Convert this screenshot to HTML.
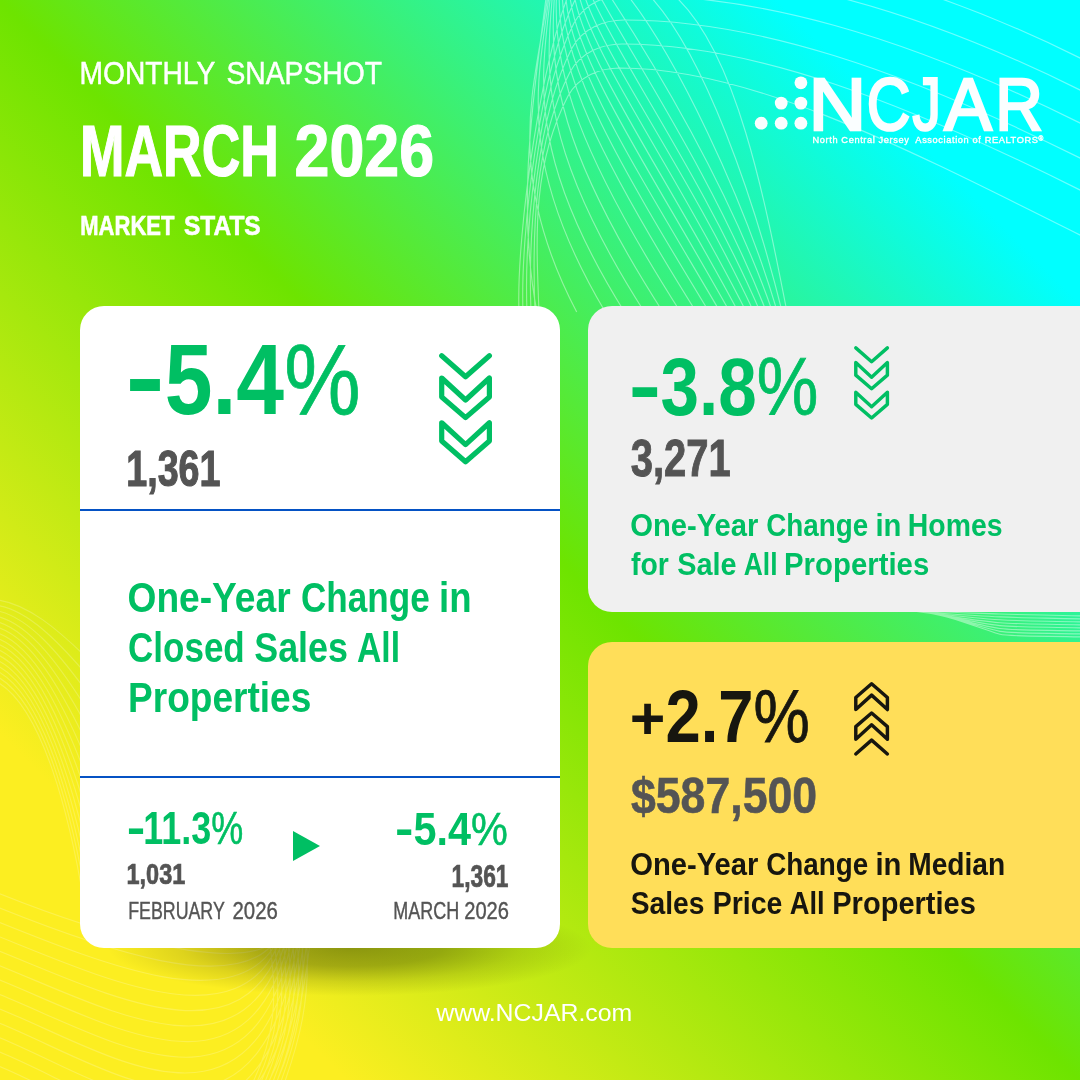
<!DOCTYPE html>
<html lang="en"><head><meta charset="utf-8"><title>NCJAR Monthly Snapshot - March 2026 Market Stats</title>
<style>
html,body{margin:0;padding:0;background:#fff}
#page{position:relative;width:1080px;height:1080px;overflow:hidden;font-family:"Liberation Sans",sans-serif;
background:linear-gradient(45deg,#fcee21 16%,#6de400 50%,#00ffff 86%)}
p,h1,h2{margin:0;padding:0;font-size:inherit;font-weight:inherit}
.card{position:absolute;border-radius:24px}
.white{background:#fff}
.grey{background:#f0f0f0}
.yellow{background:#ffde59}
.shadow{position:absolute;left:108px;top:900px;width:484px;height:96px;
background:radial-gradient(ellipse closest-side at 50% 50%,rgba(40,50,0,.46) 0%,rgba(40,50,0,.36) 38%,rgba(40,50,0,.14) 70%,rgba(40,50,0,0) 100%)}
.rule{position:absolute;left:0;right:0;height:2px;background:#0552c4}
.ic{position:absolute;overflow:visible}
.logosvg{position:absolute;overflow:visible}
#bgart{position:absolute;left:0;top:0}
.ln{position:absolute;margin:0;padding:0;line-height:1;white-space:nowrap;font-family:"Liberation Sans",sans-serif}
.w{display:inline-block;transform-origin:0 0}

.pc{font-weight:400}
.big .pc{-webkit-text-stroke:.8px currentColor}
.sm .pc{-webkit-text-stroke:.6px currentColor}
.rg{font-size:70%;vertical-align:30%}

</style></head>
<body>
<main id="page">
<svg id="bgart" width="1080" height="1080" viewBox="0 0 1080 1080" fill="none" stroke="#fff" stroke-width="1.15"><path opacity=".42" d="M546.0,-2 C536.0,80.0 515.0,200.0 537.0,312 M547.4,-2 C537.6,78.7 500.6,167.0 576.7,312 M548.7,-2 C539.5,77.4 513.5,157.4 605.3,312 M550.2,-2 C541.9,76.1 524.8,152.6 624.5,312 M552.2,-2 C545.3,74.7 541.1,150.4 644.4,312 M554.3,-2 C549.1,73.4 559.0,150.0 662.9,312 M556.4,-2 C553.4,72.1 578.0,150.9 680.4,312 M559.2,-2 C558.7,70.8 596.7,152.8 696.2,312 M562.4,-2 C564.8,69.5 613.9,155.4 709.1,312 M565.9,-2 C571.7,68.2 630.1,158.5 720.2,312 M570.1,-2 C579.4,66.8 645.5,162.0 729.8,312 M574.7,-2 C588.1,65.5 660.3,165.9 738.3,312 M579.7,-2 C597.6,64.2 675.0,169.9 746.3,312 M585.2,-2 C607.9,62.9 689.5,174.2 753.8,312 M592.4,-2 C620.4,61.6 702.9,178.5 760.2,312 M600.9,-2 C634.6,60.3 716.2,182.8 766.4,312 M611.2,-2 C650.9,58.9 729.6,187.2 772.5,312 M629.7,-2 C675.7,57.6 741.6,191.5 777.4,312 M651.7,-2 C704.5,56.3 753.3,195.8 782.2,312 M677.0,-2 C737.0,55.0 765.0,200.0 787.0,312 M519.0,312 C516.0,235 542,43 578,-27 C589,-47 610,-55 630,-55 C760,-55 900,-32 1084,60 M523.0,312 C520.0,235 540,68 576,-2 C587,-22 608,-30 628,-30 C758,-30 900,0 1084,92 M527.0,312 C524.0,235 538,93 574,23 C585,3 606,-5 626,-5 C756,-5 900,33 1084,125 M531.0,312 C528.0,235 536,118 572,48 C583,28 604,20 624,20 C754,20 900,68 1084,160 M535.0,312 C532.0,235 534,142 570,72 C581,52 602,44 622,44 C752,44 900,100 1084,192 M539.0,312 C536.0,235 532,166 568,96 C579,76 600,68 620,68 C750,68 900,145 1084,237 M905,611 C935,611.5 970,613.0 1000,614.0 S1050,615 1084,616 M908,611 C940,613.1 973,615.7 1000,616.9 S1050,618 1084,619 M911,611 C945,614.7 976,618.4 1000,619.8 S1050,621 1084,622 M914,611 C950,616.3 979,621.1 1000,622.7 S1050,624 1084,625 M917,611 C955,617.9 982,623.8 1000,625.6 S1050,627 1084,628 M920,611 C960,619.5 985,626.5 1000,628.5 S1050,630 1084,631 M923,611 C965,621.1 988,629.2 1000,631.4 S1050,633 1084,634 M926,611 C970,622.7 991,631.9 1000,634.3 S1050,636 1084,637"/><path opacity=".20" d="M-2,600.0 C28.0,604.0 58.0,630.0 84,655.0 M-2,605.5 C29.0,611.0 58.8,642.5 84,671.5 M-2,611.0 C30.0,618.0 59.6,655.0 84,688.0 M-2,616.5 C31.0,625.0 60.4,667.5 84,704.5 M-2,622.0 C32.0,632.0 61.2,680.0 84,721.0 M-2,627.5 C33.0,639.0 62.0,692.5 84,737.5 M-2,633.0 C34.0,646.0 62.8,705.0 84,754.0 M-2,638.5 C35.0,653.0 63.6,717.5 84,770.5 M-2,644.0 C36.0,660.0 64.4,730.0 84,787.0 M-2,649.5 C37.0,667.0 65.2,742.5 84,803.5 M-2,655.0 C38.0,674.0 66.0,755.0 84,820.0 M-2,660.5 C39.0,681.0 66.8,767.5 84,836.5 M-2,666.0 C40.0,688.0 67.6,780.0 84,853.0 M-2,671.5 C41.0,695.0 68.4,792.5 84,869.5 M-2,677.0 C42.0,702.0 69.2,805.0 84,886.0 M-2,682.5 C43.0,709.0 70.0,817.5 84,902.5 M-2,893.0 C110,938.0 225.0,968.0 268.0,946 M-2,907.4 C110,952.4 228.5,991.4 271.2,946 M-2,921.8 C110,966.8 232.0,1014.8 274.4,946 M-2,936.2 C110,981.2 235.5,1038.2 277.6,946 M-2,950.6 C110,995.6 239.0,1061.6 280.8,946 M-2,965.0 C110,1010.0 242.5,1085.0 284.0,946 M-2,979.4 C110,1024.4 246.0,1108.4 287.2,946 M-2,993.8 C110,1038.8 249.5,1131.8 290.4,946 M-2,1008.2 C110,1053.2 253.0,1155.2 293.6,946 M-2,1022.6 C110,1067.6 256.5,1178.6 296.8,946 M-2,1037.0 C110,1082.0 260.0,1202.0 300.0,946 M-2,1051.4 C110,1096.4 263.5,1225.4 303.2,946 M-2,1065.8 C110,1110.8 267.0,1248.8 306.4,946 M-2,1080.2 C110,1125.2 270.5,1272.2 309.6,946 M270.0,946 C278.0,1000 274.0,1040 252.0,1084 M274.6,946 C282.0,1000 277.2,1040 256.0,1084 M279.2,946 C286.0,1000 280.4,1040 260.0,1084 M283.8,946 C290.0,1000 283.6,1040 264.0,1084 M288.4,946 C294.0,1000 286.8,1040 268.0,1084 M293.0,946 C298.0,1000 290.0,1040 272.0,1084 M297.6,946 C302.0,1000 293.2,1040 276.0,1084 M302.2,946 C306.0,1000 296.4,1040 280.0,1084 M306.8,946 C310.0,1000 299.6,1040 284.0,1084"/></svg>
<header class="hdr">
<p class="ln" style="left:81.50px;top:57.80px;font-size:31.88px;font-weight:400;color:#ffffff;-webkit-text-stroke:0.5px #ffffff"><span class="w" style="transform:translate(-2.50px,0.00px) scaleX(0.8841)">MONTHLY</span> <span class="w" style="transform:translate(-17.50px,0.00px) scaleX(0.8866)">SNAPSHOT</span></p>
<h1 class="ln" style="left:83.00px;top:116.24px;font-size:71.81px;font-weight:700;color:#ffffff;-webkit-text-stroke:1.2px #ffffff"><span class="w" style="transform:translate(-3.00px,0.00px) scaleX(0.7440)">MARCH</span> <span class="w" style="transform:translate(-75.50px,0.00px) scaleX(0.8738)">2026</span></h1>
<p class="ln" style="left:81.25px;top:211.94px;font-size:28.12px;font-weight:700;color:#ffffff;-webkit-text-stroke:0.6px #ffffff"><span class="w" style="transform:translate(-0.75px,0.00px) scaleX(0.7832)">MARKET</span> <span class="w" style="transform:translate(-25.00px,0.00px) scaleX(0.8722)">STATS</span></p>
</header>
<div class="logo">
<svg class="logosvg" width="320" height="100" viewBox="740 60 320 100" style="left:740px;top:60px">
<g fill="#fafeff">
<circle cx="800.9" cy="82.8" r="6.4"/><circle cx="781.2" cy="103.1" r="6.4"/><circle cx="800.9" cy="103.1" r="6.4"/>
<circle cx="761.2" cy="123.2" r="6.4"/><circle cx="781.2" cy="123.2" r="6.4"/><circle cx="800.9" cy="123.2" r="6.4"/>
</g>
</svg>
<div class="ln" style="left:813.40px;top:67.85px;font-size:74.49px;font-weight:400;color:#fafeff;-webkit-text-stroke:2.6px #fafeff"><span class="w" style="transform:translate(-4.50px,0.00px) scaleX(1.0749)">N</span><span class="w" style="transform:translate(-0.25px,0.00px) scaleX(0.8120)">C</span><span class="w" style="transform:translate(-8.50px,0.00px) scaleX(0.7641)">J</span><span class="w" style="transform:translate(-13.75px,0.00px) scaleX(0.9581)">A</span><span class="w" style="transform:translate(-12.75px,0.00px) scaleX(0.8868)">R</span></div>
<p class="ln" style="left:813.10px;top:136.47px;font-size:9.06px;font-weight:400;color:#ffffff;-webkit-text-stroke:0.35px #ffffff"><span class="w" style="transform:translate(-0.50px,0.00px) scaleX(1.0216);letter-spacing:0.6px">North Central Jersey&nbsp; Association of REALTORS<span class="rg">®</span></span></p>
</div>
<div class="shadow"></div>
<section class="card white" style="left:80px;top:306px;width:480px;height:642px">
<p class="ln big" style="left:50.00px;top:23.39px;font-size:100.72px;font-weight:700;color:#00bf63"><span class="w" style="transform:translate(-4.50px,-3.00px) scaleX(1.1663)">-</span><span class="w" style="transform:translate(0.75px,0.00px) scaleX(0.8527)">5.4<span class="pc">%</span></span></p>
<svg class="ic" style="left:358.60px;top:46.60px" width="53.10" height="111.40" viewBox="0 0 53.1 111.4"><g fill="none" stroke="#00bf63" stroke-width="5.2" stroke-linecap="round" stroke-linejoin="round"><polyline points="2.7,2.8 26.55,23.7 50.4,2.8"/><polygon points="2.7,25 26.55,47 50.4,25 50.4,44 26.55,64.6 2.7,44"/><polygon points="2.7,69.8 26.55,91.6 50.4,69.8 50.4,88 26.55,108.7 2.7,88"/></g></svg>
<p class="ln" style="left:48.00px;top:138.49px;font-size:50.80px;font-weight:700;color:#545454;-webkit-text-stroke:1.2px #545454"><span class="w" style="transform:translate(-1.75px,0.00px) scaleX(0.7416)">1,361</span></p>
<div class="rule" style="top:203px"></div>
<h2>
<span class="ln" style="left:48.90px;top:269.73px;font-size:43.04px;font-weight:700;color:#00bf63"><span class="w" style="transform:translate(-1.50px,0.00px) scaleX(0.8631)">One-Year</span> <span class="w" style="transform:translate(-29.00px,0.00px) scaleX(0.8155)">Change</span> <span class="w" style="transform:translate(-61.00px,0.00px) scaleX(0.8503)">in</span></span>
<span class="ln" style="left:49.30px;top:319.73px;font-size:43.04px;font-weight:700;color:#00bf63"><span class="w" style="transform:translate(-1.00px,0.00px) scaleX(0.8137)">Closed</span> <span class="w" style="transform:translate(-30.75px,0.00px) scaleX(0.8334)">Sales</span> <span class="w" style="transform:translate(-52.00px,0.00px) scaleX(0.7823)">All</span></span>
<span class="ln" style="left:50.20px;top:369.73px;font-size:43.04px;font-weight:700;color:#00bf63"><span class="w" style="transform:translate(-2.00px,0.00px) scaleX(0.8614)">Properties</span></span>
</h2>
<div class="rule" style="top:470.3px"></div>
<p class="ln sm" style="left:48.75px;top:497.95px;font-size:47.10px;font-weight:700;color:#00bf63"><span class="w" style="transform:translate(-2.25px,-1.40px) scaleX(1.1850)">-</span><span class="w" style="transform:translate(-0.75px,0.00px) scaleX(0.7641)">11.3<span class="pc">%</span></span></p>
<p class="ln" style="left:47.50px;top:553.23px;font-size:29.78px;font-weight:700;color:#545454;-webkit-text-stroke:0.7px #545454"><span class="w" style="transform:translate(-1.50px,0.00px) scaleX(0.7897)">1,031</span></p>
<p class="ln" style="left:49.50px;top:594.01px;font-size:23.70px;font-weight:400;color:#545454;-webkit-text-stroke:0.4px #545454"><span class="w" style="transform:translate(-1.75px,0.00px) scaleX(0.7506)">FEBRUARY</span> <span class="w" style="transform:translate(-32.50px,0.00px) scaleX(0.8589)">2026</span></p>
<svg class="ic" style="left:213.25px;top:524.75px" width="26.5" height="30" viewBox="0 0 26.5 30"><polygon points="0,0 27,15 0,30" fill="#00bf63"/></svg>
<p class="ln sm" style="left:317.10px;top:498.70px;font-size:47.10px;font-weight:700;color:#00bf63"><span class="w" style="transform:translate(-2.00px,-1.40px) scaleX(1.1767)">-</span><span class="w" style="transform:translate(0.50px,0.00px) scaleX(0.8793)">5.4<span class="pc">%</span></span></p>
<p class="ln" style="left:372.50px;top:554.62px;font-size:30.51px;font-weight:700;color:#545454;-webkit-text-stroke:0.7px #545454"><span class="w" style="transform:translate(-1.50px,0.00px) scaleX(0.7462)">1,361</span></p>
<p class="ln" style="left:314.50px;top:594.03px;font-size:23.70px;font-weight:400;color:#545454;-webkit-text-stroke:0.4px #545454"><span class="w" style="transform:translate(-1.75px,0.00px) scaleX(0.7582)">MARCH</span> <span class="w" style="transform:translate(-23.75px,0.00px) scaleX(0.8491)">2026</span></p>
</section>
<section class="card grey" style="left:588px;top:306px;width:540px;height:306px">
<p class="ln big" style="left:44.50px;top:40.99px;font-size:80.72px;font-weight:700;color:#00bf63"><span class="w" style="transform:translate(-4.25px,-2.40px) scaleX(1.2000)">-</span><span class="w" style="transform:translate(1.50px,0.00px) scaleX(0.8574)">3.8<span class="pc">%</span></span></p>
<svg class="ic" style="left:265.90px;top:39.70px" width="35.20" height="73.85" viewBox="0 0 53.1 111.4"><g fill="none" stroke="#00bf63" stroke-width="5.2" stroke-linecap="round" stroke-linejoin="round"><polyline points="2.7,2.8 26.55,23.7 50.4,2.8"/><polygon points="2.7,25 26.55,47 50.4,25 50.4,44 26.55,64.6 2.7,44"/><polygon points="2.7,69.8 26.55,91.6 50.4,69.8 50.4,88 26.55,108.7 2.7,88"/></g></svg>
<p class="ln" style="left:43.25px;top:127.34px;font-size:51.09px;font-weight:700;color:#545454;-webkit-text-stroke:1.0px #545454"><span class="w" style="transform:translate(-0.25px,0.00px) scaleX(0.7822)">3,271</span></p>
<h2>
<span class="ln" style="left:43.50px;top:204.31px;font-size:31.88px;font-weight:700;color:#00bf63"><span class="w" style="transform:translate(-1.75px,0.00px) scaleX(0.9156)">One-Year</span> <span class="w" style="transform:translate(-13.75px,0.00px) scaleX(0.8728)">Change</span> <span class="w" style="transform:translate(-30.50px,0.00px) scaleX(0.9170)">in</span> <span class="w" style="transform:translate(-35.25px,0.00px) scaleX(0.8916)">Homes</span></span>
<span class="ln" style="left:43.50px;top:243.06px;font-size:31.88px;font-weight:700;color:#00bf63"><span class="w" style="transform:translate(-1.00px,0.00px) scaleX(0.8896)">for</span> <span class="w" style="transform:translate(-5.75px,0.00px) scaleX(0.9056)">Sale</span> <span class="w" style="transform:translate(-13.25px,0.00px) scaleX(0.8291)">All</span> <span class="w" style="transform:translate(-23.00px,0.00px) scaleX(0.9211)">Properties</span></span>
</h2>
</section>
<section class="card yellow" style="left:588px;top:642px;width:540px;height:306px">
<p class="ln big" style="left:44.25px;top:36.95px;font-size:74.86px;font-weight:700;color:#17160f"><span class="w" style="transform:translate(-2.25px,-3.30px) scaleX(1.0317);font-size:59.14px">+</span><span class="w" style="transform:translate(-1.50px,0.00px) scaleX(0.8453)">2.7<span class="pc">%</span></span></p>
<svg class="ic" style="left:265.90px;top:40.30px" width="35.20" height="73.85" viewBox="0 0 53.1 111.4"><g fill="none" stroke="#17160f" stroke-width="5.2" stroke-linecap="round" stroke-linejoin="round" transform="translate(0,111.4) scale(1,-1)"><polyline points="2.7,2.8 26.55,23.7 50.4,2.8"/><polygon points="2.7,25 26.55,47 50.4,25 50.4,44 26.55,64.6 2.7,44"/><polygon points="2.7,69.8 26.55,91.6 50.4,69.8 50.4,88 26.55,108.7 2.7,88"/></g></svg>
<p class="ln" style="left:43.25px;top:129.57px;font-size:49.86px;font-weight:700;color:#545454;-webkit-text-stroke:0.6px #545454"><span class="w" style="transform:translate(0.00px,0.00px) scaleX(0.8947)">$587,500</span></p>
<h2>
<span class="ln" style="left:43.50px;top:207.26px;font-size:31.88px;font-weight:700;color:#17160f"><span class="w" style="transform:translate(-1.75px,0.00px) scaleX(0.9156)">One-Year</span> <span class="w" style="transform:translate(-13.75px,0.00px) scaleX(0.8728)">Change</span> <span class="w" style="transform:translate(-30.50px,0.00px) scaleX(0.9170)">in</span> <span class="w" style="transform:translate(-34.75px,0.00px) scaleX(0.8826)">Median</span></span>
<span class="ln" style="left:43.50px;top:246.46px;font-size:31.88px;font-weight:700;color:#17160f"><span class="w" style="transform:translate(-1.25px,0.00px) scaleX(0.8853)">Sales</span> <span class="w" style="transform:translate(-11.25px,0.00px) scaleX(0.8940)">Price</span> <span class="w" style="transform:translate(-21.25px,0.00px) scaleX(0.8556)">All</span> <span class="w" style="transform:translate(-27.75px,0.00px) scaleX(0.9108)">Properties</span></span>
</h2>
</section>
<footer>
<p class="ln" style="left:436.25px;top:1000.93px;font-size:24.64px;font-weight:400;color:#ffffff"><span class="w" style="transform:translate(0.25px,0.00px) scaleX(1.0088)">www.NCJAR.com</span></p>
</footer>
</main>
</body></html>
